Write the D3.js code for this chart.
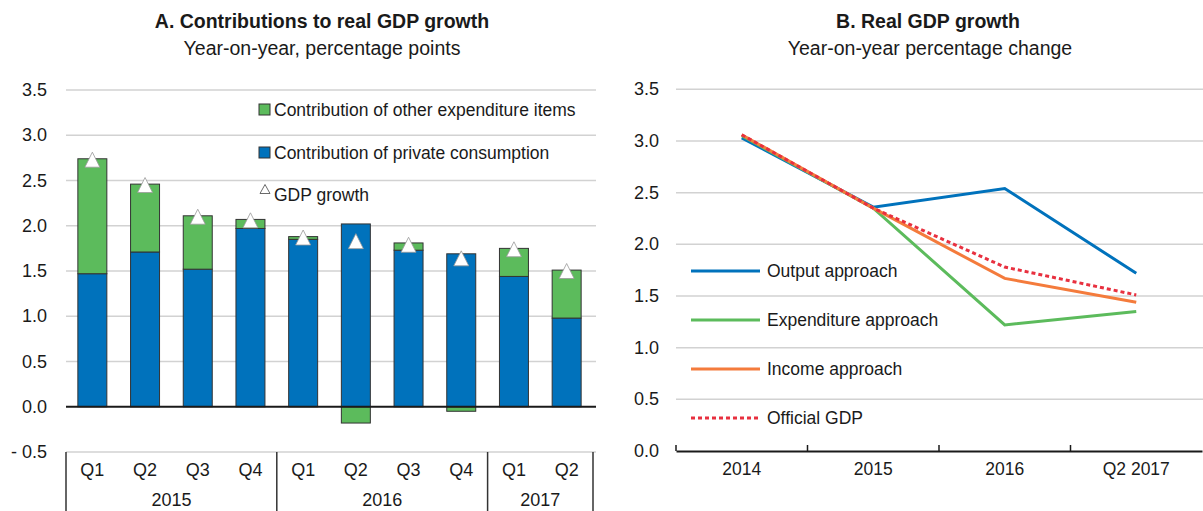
<!DOCTYPE html>
<html>
<head>
<meta charset="utf-8">
<script src="https://cdn.jsdelivr.net/npm/d3@7"></script>
<style>
  body { margin: 0; background: #fff; }
  svg { font-family: "Liberation Sans", Arial, sans-serif; fill: #1a1a1a; }
</style>
</head>
<body>
<div id="chart"></div>
<script>
// Panel A data
const quarters = ['Q1', 'Q2', 'Q3', 'Q4', 'Q1', 'Q2', 'Q3', 'Q4', 'Q1', 'Q2'];
const years = ['2015', '2016', '2017'];
const yearSpan = [4, 4, 2];
const privateCons = [1.47, 1.71, 1.52, 1.97, 1.85, 2.02, 1.73, 1.69, 1.44, 0.98];
const otherItems = [1.27, 0.75, 0.59, 0.10, 0.03, -0.18, 0.08, -0.05, 0.31, 0.53];
const gdpGrowth = [2.73, 2.45, 2.10, 2.06, 1.87, 1.83, 1.79, 1.64, 1.74, 1.50];
const ticksA = [-0.5, 0, 0.5, 1, 1.5, 2, 2.5, 3, 3.5];

// Panel B data
const periods = ['2014', '2015', '2016', 'Q2 2017'];
const outputApp = [3.03, 2.36, 2.54, 1.72];
const expenditureApp = [3.05, 2.35, 1.22, 1.35];
const incomeApp = [3.06, 2.35, 1.67, 1.44];
const officialGdp = [3.06, 2.35, 1.78, 1.51];
const ticksB = [0, 0.5, 1, 1.5, 2, 2.5, 3, 3.5];

const blue = '#0072bc', green = '#5cbb5c', orange = '#f47b3c', red = '#e8303f';
const grid = '#d2d2d2', dark = '#1a1a1a';

const svg = d3.select('#chart')
  .append('svg')
  .attr('width', 1203)
  .attr('height', 511);

// tall triangle marker, centred on the value
const triangle = (w, h) => ({
  draw(ctx) {
    ctx.moveTo(0, -h / 2);
    ctx.lineTo(w / 2, h / 2);
    ctx.lineTo(-w / 2, h / 2);
    ctx.closePath();
  }
});

// ---------- Panel A ----------
const a = svg.append('g');
const keys = quarters.map((q, i) => i);
const xA = d3.scaleBand().domain(keys).range([66, 593]).paddingInner(0.45).paddingOuter(0.225);
const yA = d3.scaleLinear().domain([-0.5, 3.5]).range([452, 90]);

a.append('text').attr('x', 322).attr('y', 28).attr('text-anchor', 'middle')
  .style('font-size', '19.5px').style('font-weight', 'bold').text('A. Contributions to real GDP growth');
a.append('text').attr('x', 322).attr('y', 55).attr('text-anchor', 'middle')
  .style('font-size', '19.5px').text('Year-on-year, percentage points');

a.selectAll('line.grid')
  .data(ticksA.filter(d => d !== 0))
  .enter()
  .append('line')
  .attr('x1', 66).attr('x2', 596)
  .attr('y1', d => yA(d)).attr('y2', d => yA(d))
  .attr('stroke', grid).attr('stroke-width', 1.5);

a.selectAll('text.tick')
  .data(ticksA)
  .enter()
  .append('text')
  .attr('x', 47).attr('y', d => yA(d) + 6)
  .attr('text-anchor', 'end')
  .style('font-size', '18px')
  .text(d => d < 0 ? '- ' + d3.format('.1f')(-d) : d3.format('.1f')(d));

// bars: private consumption from zero, other items stacked on top (or below zero)
a.selectAll('rect.pc')
  .data(keys)
  .enter()
  .append('rect')
  .attr('x', i => xA(i)).attr('width', xA.bandwidth())
  .attr('y', i => yA(privateCons[i])).attr('height', i => yA(0) - yA(privateCons[i]))
  .attr('fill', blue).attr('stroke', '#333').attr('stroke-width', 1);

a.selectAll('rect.oth')
  .data(keys)
  .enter()
  .append('rect')
  .attr('x', i => xA(i)).attr('width', xA.bandwidth())
  .attr('y', i => otherItems[i] >= 0 ? yA(privateCons[i] + otherItems[i]) : yA(0))
  .attr('height', i => Math.abs(yA(0) - yA(otherItems[i])))
  .attr('fill', green).attr('stroke', '#333').attr('stroke-width', 1);

a.append('line')
  .attr('x1', 66).attr('x2', 596)
  .attr('y1', yA(0)).attr('y2', yA(0))
  .attr('stroke', dark).attr('stroke-width', 2);

const tri = d3.symbol().type(triangle(15, 15));
a.selectAll('path.gdp')
  .data(keys)
  .enter()
  .append('path')
  .attr('d', tri)
  .attr('transform', i => `translate(${xA(i) + xA.bandwidth() / 2},${yA(gdpGrowth[i])})`)
  .attr('fill', '#fff').attr('stroke', '#999').attr('stroke-width', 0.8);

// category table under the bars
a.selectAll('text.q')
  .data(keys)
  .enter()
  .append('text')
  .attr('x', i => xA(i) + xA.bandwidth() / 2).attr('y', 476)
  .attr('text-anchor', 'middle').style('font-size', '18px')
  .text(i => quarters[i]);

let start = 0;
const yearBounds = yearSpan.map(n => { const s = start; start += n; return [s, start]; });
const edge = i => xA(i) - xA.step() * xA.paddingInner() / 2;
const seps = [66].concat(yearBounds.slice(0, -1).map(b => edge(b[1])), [593]);
a.selectAll('line.sep')
  .data(seps)
  .enter()
  .append('line')
  .attr('x1', d => d).attr('x2', d => d)
  .attr('y1', 452).attr('y2', 511)
  .attr('stroke', '#333').attr('stroke-width', 1.5);
a.selectAll('text.yr')
  .data(years)
  .enter()
  .append('text')
  .attr('x', (d, i) => (seps[i] + seps[i + 1]) / 2).attr('y', 506)
  .attr('text-anchor', 'middle').style('font-size', '18px')
  .text(d => d);

// legend A
const legA = a.append('g');
legA.append('rect').attr('x', 259).attr('y', 104).attr('width', 11).attr('height', 11)
  .attr('fill', green).attr('stroke', '#333');
legA.append('text').attr('x', 274).attr('y', 116).style('font-size', '17.5px')
  .text('Contribution of other expenditure items');
legA.append('rect').attr('x', 259).attr('y', 147).attr('width', 11).attr('height', 11)
  .attr('fill', blue).attr('stroke', '#333');
legA.append('text').attr('x', 274).attr('y', 159).style('font-size', '17.5px')
  .text('Contribution of private consumption');
legA.append('path').attr('d', d3.symbol().type(triangle(10, 9)))
  .attr('transform', 'translate(265,189)')
  .attr('fill', '#fff').attr('stroke', '#444').attr('stroke-width', 0.8);
legA.append('text').attr('x', 274).attr('y', 201).style('font-size', '17.5px')
  .text('GDP growth');

// ---------- Panel B ----------
const b = svg.append('g');
const xB = d3.scaleBand().domain(periods).range([676, 1202]);
const yB = d3.scaleLinear().domain([0, 3.5]).range([451, 89.3]);

b.append('text').attr('x', 928).attr('y', 28).attr('text-anchor', 'middle')
  .style('font-size', '19.5px').style('font-weight', 'bold').text('B. Real GDP growth');
b.append('text').attr('x', 930).attr('y', 55).attr('text-anchor', 'middle')
  .style('font-size', '19.5px').text('Year-on-year percentage change');

b.selectAll('line.grid')
  .data(ticksB.filter(d => d !== 0))
  .enter()
  .append('line')
  .attr('x1', 676).attr('x2', 1203)
  .attr('y1', d => yB(d)).attr('y2', d => yB(d))
  .attr('stroke', grid).attr('stroke-width', 1.5);

b.selectAll('text.tick')
  .data(ticksB)
  .enter()
  .append('text')
  .attr('x', 659).attr('y', d => yB(d) + 6)
  .attr('text-anchor', 'end')
  .style('font-size', '18px')
  .text(d3.format('.1f'));

const xAxisB = b.append('g').attr('transform', `translate(0,${yB(0)})`)
  .call(d3.axisBottom(xB).tickSize(0).tickPadding(12));
xAxisB.select('.domain').attr('stroke', dark).attr('stroke-width', 2);
xAxisB.selectAll('text').style('font-size', '17.5px').attr('fill', dark)
  .style('font-family', '"Liberation Sans", Arial, sans-serif');
b.selectAll('line.tk')
  .data(periods)
  .enter()
  .append('line')
  .attr('x1', d => xB(d)).attr('x2', d => xB(d))
  .attr('y1', yB(0) - 6).attr('y2', yB(0))
  .attr('stroke', dark).attr('stroke-width', 1.5);

const series = [
  { name: 'Output approach', values: outputApp, color: blue, dash: null },
  { name: 'Expenditure approach', values: expenditureApp, color: green, dash: null },
  { name: 'Income approach', values: incomeApp, color: orange, dash: null },
  { name: 'Official GDP', values: officialGdp, color: red, dash: '4,3' }
];

const line = d3.line()
  .x((d, i) => xB(periods[i]) + xB.bandwidth() / 2)
  .y(d => yB(d));

b.selectAll('path.series')
  .data(series)
  .enter()
  .append('path')
  .attr('d', d => line(d.values))
  .attr('fill', 'none')
  .attr('stroke', d => d.color)
  .attr('stroke-width', 3)
  .attr('stroke-dasharray', d => d.dash);

const legB = b.selectAll('g.leg')
  .data(series)
  .enter()
  .append('g')
  .attr('transform', (d, i) => `translate(0,${271 + i * 49})`);
legB.append('line')
  .attr('x1', 691).attr('x2', 760)
  .attr('stroke', d => d.color).attr('stroke-width', 3)
  .attr('stroke-dasharray', d => d.dash);
legB.append('text')
  .attr('x', 767).attr('y', 6)
  .style('font-size', '17.5px')
  .text(d => d.name);
</script>
</body>
</html>
